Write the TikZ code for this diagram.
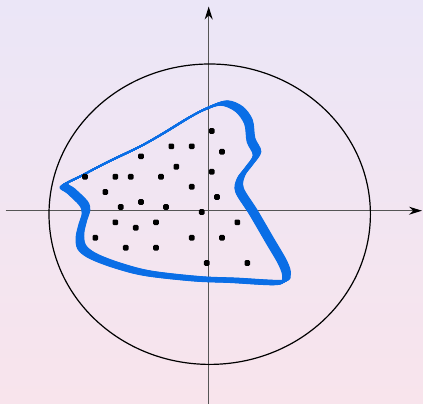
\documentclass[tikz,border=0pt]{standalone}
\usetikzlibrary{arrows.meta,shapes.geometric}
\definecolor{bgtop}{RGB}{235,230,247}
\definecolor{bgbot}{RGB}{248,228,236}
\definecolor{penblue}{RGB}{10,110,230}
\definecolor{axisgray}{RGB}{85,85,85}
\begin{document}
\begin{tikzpicture}[x=1pt,y=-1pt,
  axisline/.style={draw=axisgray, line width=1.2pt, -{Stealth[length=13pt,width=8pt,black]}},
  dotmark/.style={fill=black, rounded corners=1.2pt, rectangle, inner sep=0pt, minimum size=5.6pt},
  penstroke/.style={draw=penblue, line width=1.6pt, line join=round}]
\fill[top color=bgtop,bottom color=bgbot] (0,0) rectangle (423,404);
\useasboundingbox (0,0) rectangle (423,404);
% axes
\coordinate (xs) at (5.7,210.7);
\coordinate (xe) at (422,210.7);
\coordinate (ys) at (208.7,404);
\coordinate (ye) at (208.7,6.5);
\draw[axisline] (xs) -- (xe);
\draw[axisline] (ys) -- (ye);
% ellipse
\node[draw=black, line width=1.2pt, ellipse, minimum width=321.4pt, minimum height=300.4pt, inner sep=0pt] (ell) at (209.7,214.2) {};
% calligraphic blue curve
\foreach \t in {-4,-3.5,...,4} {
  \draw[penstroke, shift={(\t*0.883,-\t*0.47)}]
    plot[smooth cycle, tension=0.55] coordinates {
      (64,185) (80,176.5) (106.7,162.5) (140,146.5) (163,133.5) (190,117)
      (207,108.3) (224,103) (239,109) (248.5,122) (251,140) (257,153.5)
      (249,166) (241,177) (239.5,190) (253,211.7) (269.5,240) (283,263.3)
      (286.5,276) (280,282.5) (233.3,280.3) (200,279) (160,275) (136.7,271)
      (110,263) (91,255) (81.5,246.7) (80,235) (83,221.7) (86,211.7)
      (83.5,203.3) (71,191)
    };
}
% dots
\foreach \x/\y [count=\i] in {
  211.7/131, 171.3/146.3, 191.7/146.3, 222/151.7, 141/156.3,
  176.3/166.7, 211.7/171.7, 85/176.7, 115.3/176.7, 130.7/176.7,
  161/176.7, 191.7/186.7, 105.3/192, 217/197, 141/202,
  120.7/207, 166/207, 201.7/212, 115.3/222.3, 156/222.3,
  237.3/222.3, 135.7/227.7, 95.3/237.7, 191.7/237.7, 222/237.7,
  125.7/247.7, 156/247.7, 206.7/263, 247.3/263}
  \node[dotmark] (d\i) at (\x,\y) {};
\end{tikzpicture}
\end{document}
